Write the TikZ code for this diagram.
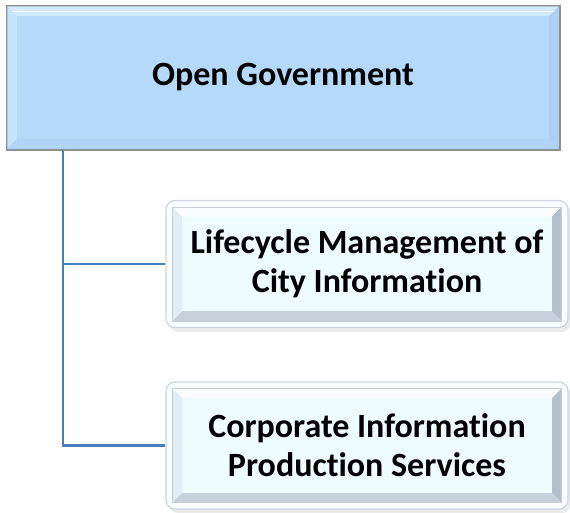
\documentclass[tikz,border=0pt]{standalone}
\usepackage{fontspec}
\setmainfont{Carlito}[Ligatures={NoCommon,NoRequired,NoContextual}]
\usetikzlibrary{calc}
\definecolor{topfill}{HTML}{B4D9FB}
\definecolor{topedge}{HTML}{8C9092}
\definecolor{toplight}{HTML}{D2EAFD}
\definecolor{topdark}{HTML}{ABD0F4}
\definecolor{childfill}{HTML}{EEFBFF}
\definecolor{childring}{HTML}{C8D6E3}
\definecolor{childlight}{HTML}{F9FDFF}
\definecolor{childside}{HTML}{E0EDF6}
\definecolor{childdark}{HTML}{B3BFCB}
\definecolor{childbot}{HTML}{C6D1DC}
\definecolor{linkblue}{HTML}{4A7EBB}
\tikzset{
  topbox/.style={draw=topedge, line width=1.5pt, fill=topfill, minimum width=552pt, minimum height=143pt, inner sep=0pt},
  childbox/.style={draw=childring, line width=1.2pt, fill=childlight, rounded corners=9pt, minimum width=402pt, minimum height=127pt, inner sep=0pt},
  boxtext/.style={align=center, font=\bfseries\fontsize{34}{39}\selectfont},
  link/.style={draw=linkblue, line width=2.4pt},
  shadowbox/.style={fill=black, opacity=0.08, rounded corners=9pt}
}
\newcommand{\childbevel}[1]{%
  \coordinate (#1a) at ($(#1.north west)+(7,7)$);
  \coordinate (#1b) at ($(#1.north east)+(-7,7)$);
  \coordinate (#1c) at ($(#1.south east)+(-7,-7)$);
  \coordinate (#1d) at ($(#1.south west)+(7,-7)$);
  \coordinate (#1e) at ($(#1a)+(10,10)$);
  \coordinate (#1f) at ($(#1b)+(-10,10)$);
  \coordinate (#1g) at ($(#1c)+(-10,-10)$);
  \coordinate (#1h) at ($(#1d)+(10,-10)$);
  \fill[childlight] (#1a) -- (#1b) -- (#1f) -- (#1e) -- cycle;
  \fill[childside] (#1a) -- (#1e) -- (#1h) -- (#1d) -- cycle;
  \fill[childdark] (#1b) -- (#1c) -- (#1g) -- (#1f) -- cycle;
  \fill[childbot] (#1d) -- (#1h) -- (#1g) -- (#1c) -- cycle;
  \fill[childfill] (#1e) rectangle (#1g);
  \draw[childdark!75, line width=0.8pt] (#1a) rectangle (#1c);
}
\begin{document}
\begin{tikzpicture}[x=1pt,y=-1pt]
\useasboundingbox (0,0) rectangle (570,512);
% top box
\node[topbox] (top) at (283,77.5) {};
\coordinate (ta) at ($(top.north west)+(1,1)$);
\coordinate (tb) at ($(top.north east)+(-1,1)$);
\coordinate (tc) at ($(top.south east)+(-1,-1)$);
\coordinate (td) at ($(top.south west)+(1,-1)$);
\coordinate (te) at ($(ta)+(10,10)$);
\coordinate (tf) at ($(tb)+(-10,10)$);
\coordinate (tg) at ($(tc)+(-10,-10)$);
\coordinate (th) at ($(td)+(10,-10)$);
\fill[toplight] (ta) -- (tb) -- (tf) -- (te) -- cycle;
\fill[toplight!60!topfill] (ta) -- (te) -- (th) -- (td) -- cycle;
\fill[topdark] (tb) -- (tc) -- (tg) -- (tf) -- cycle;
\fill[topdark!60!topfill] (td) -- (th) -- (tg) -- (tc) -- cycle;
\fill[topfill] (te) rectangle (tg);
\draw[white, line width=1.2pt, opacity=0.8] ($(ta)+(5,5)$) -- ($(tb)+(-5,5)$);
\draw[topedge, line width=1.5pt] (top.north west) rectangle (top.south east);
\node[boxtext] (toptext) at (top.center) {Open Government};
% child boxes
\fill[shadowbox] (169,204) rectangle (571,332);
\node[childbox] (c1) at (367,264) {};
\childbevel{c1}
\node[boxtext] (c1text) at (c1.center) {Lifecycle Management of\\City Information};
\fill[shadowbox] (169,386) rectangle (571,513);
\node[childbox] (c2) at (367,445.5) {};
\childbevel{c2}
\node[boxtext] (c2text) at (c2.center) {Corporate Information\\Production Services};
% connectors
\coordinate (trunk) at (63,0);
\draw[link] (top.south -| trunk) |- (c2.west);
\draw[link] (c1.west -| trunk) -- (c1.west);
\end{tikzpicture}
\end{document}
